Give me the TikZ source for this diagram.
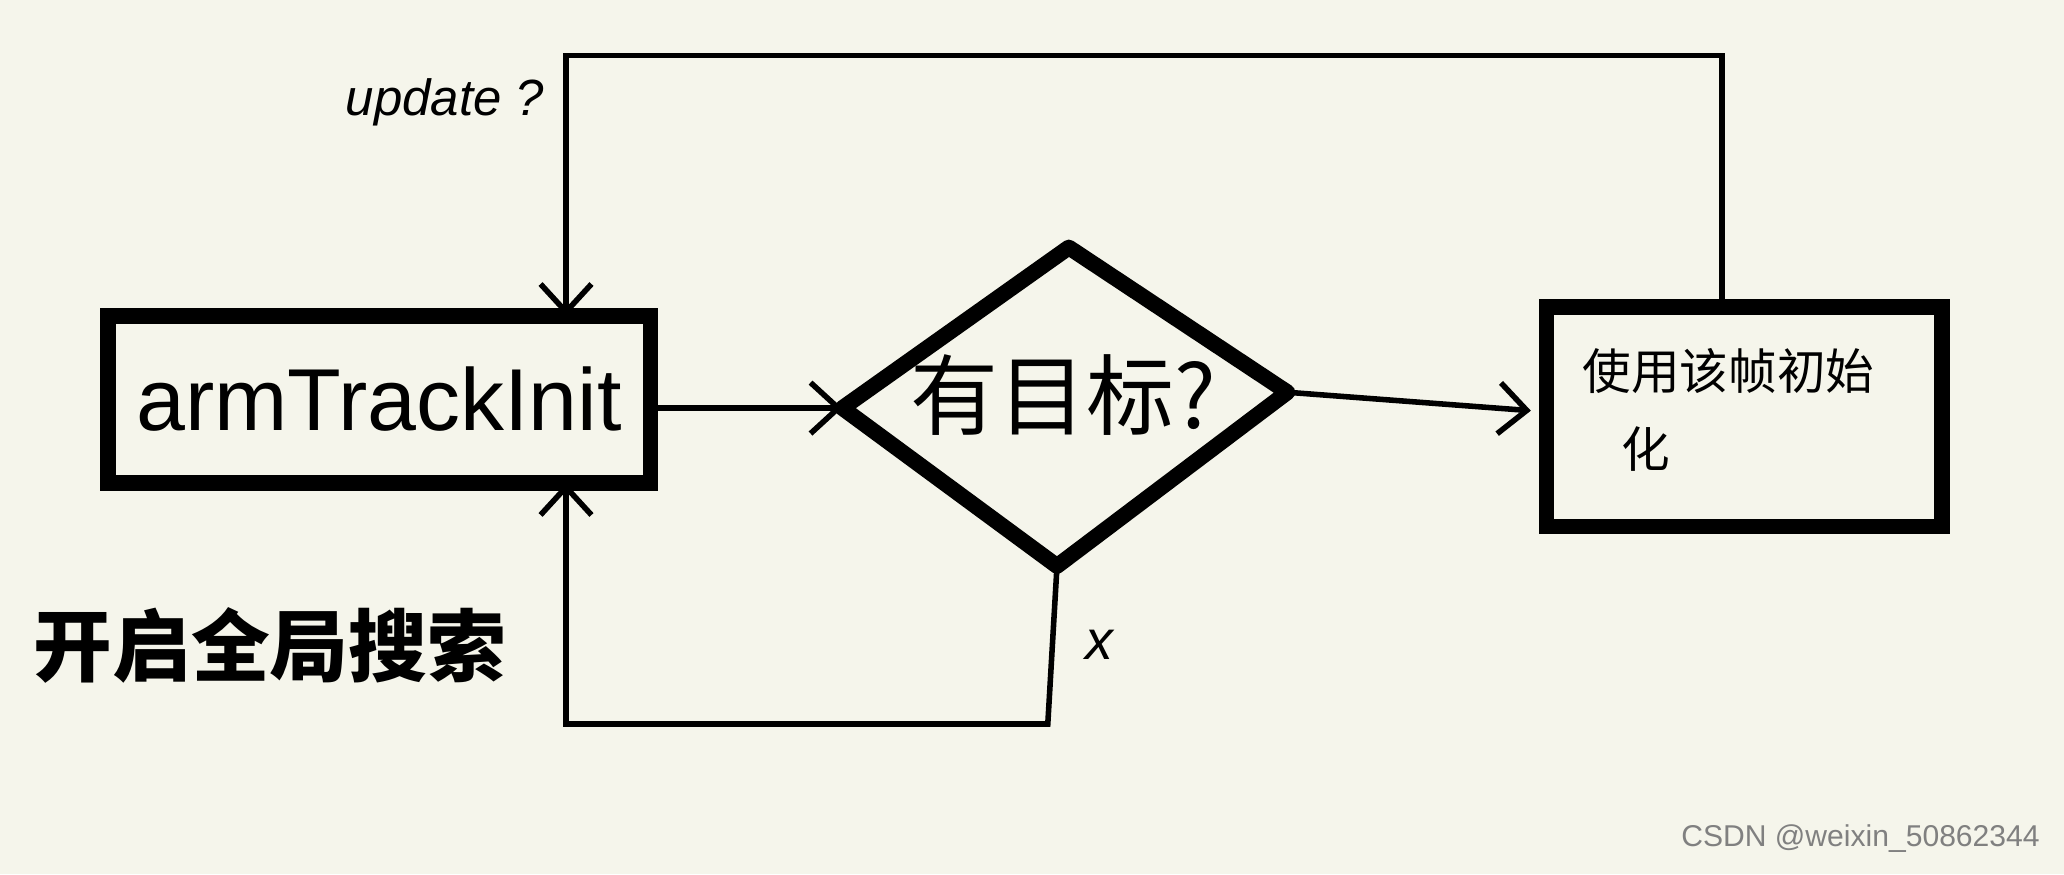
\documentclass[tikz,border=0pt]{standalone}
\usepackage{fontspec}
\newfontfamily\cjk{Noto Sans CJK SC}
\setmainfont{Liberation Sans}
\usetikzlibrary{arrows.meta}
\definecolor{bg}{HTML}{F5F5EB}
\begin{document}
\begin{tikzpicture}[x=0.01cm,y=-0.01cm,
  thickbox/.style={draw=black,line width=3.4pt},
  conn/.style={draw=black,line width=1.2pt},
  arr/.style={conn,-{Straight Barb[length=6pt,width=11pt,line width=1.2pt]}}]
\fill[bg] (0,0) rectangle (1568,664);
\useasboundingbox (0,0) rectangle (1568,664);
\node[thickbox,minimum width=4.12cm,minimum height=1.27cm,inner sep=0,font=\fontsize{19}{19}\selectfont] (init) at (288,303.5) {armTrackInit};
\coordinate (initT) at (430,240);
\coordinate (initB) at (430,367);
\coordinate (initR) at (494,310);
\coordinate (dT) at (812,188);
\coordinate (dR) at (978,298);
\coordinate (dB) at (803,430);
\coordinate (dL) at (640,310);
\draw[thickbox,line join=round] (dT) -- (dR) -- (dB) -- (dL) -- cycle;
\node[font=\cjk\fontsize{19}{19}\selectfont] (dTxt) at (808,300) {有目标?};
\node[thickbox,minimum width=3.0cm,minimum height=1.67cm,inner sep=0] (right) at (1325,316.5) {};
\coordinate (rT) at (1308,233);
\coordinate (rL) at (1163,312);
\node[font=\cjk\fontsize{10.5}{17}\selectfont,align=left,anchor=north west] (rTxt) at (1190,252) {使用该帧初始\\\hspace{0.8em}化};
\coordinate (c1) at (1308,42);
\coordinate (c2) at (430,42);
\draw[arr] (rT) -- (c1) -- (c2) -- (initT);
\node[font=\itshape\fontsize{11}{11}\selectfont] (upd) at (338,78) {update ?};
\draw[arr] (initR) -- (dL);
\draw[arr] (dR) -- (rL);
\coordinate (c3) at (796,550);
\coordinate (c4) at (430,550);
\draw[arr] (dB) -- (c3) -- (c4) -- (initB);
\node[font=\itshape\fontsize{12}{12}\selectfont] (x) at (835,490) {x};
\node[font=\cjk\bfseries\fontsize{17}{17}\selectfont] (gs) at (205,490) {开启全局搜索};
\node[font=\fontsize{6.5}{6.5}\selectfont,text=gray,anchor=south east] (wm) at (1562,660) {CSDN @weixin\_50862344};
\end{tikzpicture}
\end{document}
